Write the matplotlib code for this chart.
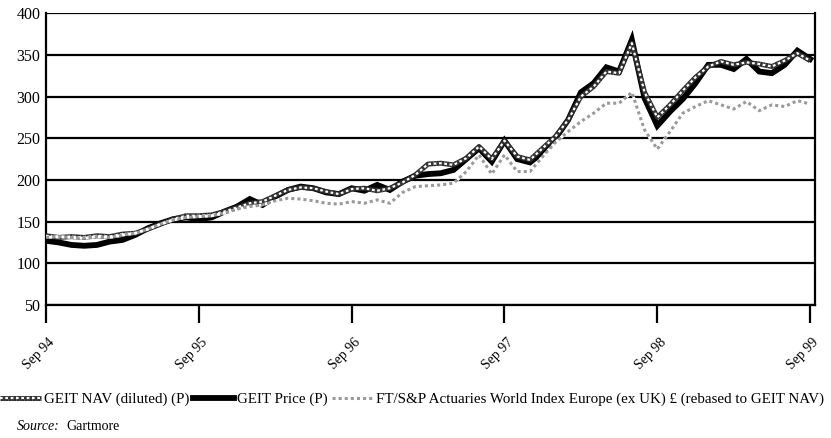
import matplotlib
matplotlib.use("Agg")
import matplotlib.pyplot as plt
import matplotlib.patheffects as pe
import numpy as np

# Monthly observations, Sep 1994 .. Sep 1999 (61 points)
months = np.arange(61)
tick_labels = ["Sep 94", "Sep 95", "Sep 96", "Sep 97", "Sep 98", "Sep 99"]
tick_pos = [0, 12, 24, 36, 48, 60]

price = [127, 125, 122, 121, 122, 126, 128, 134, 142, 148, 153, 155,
         153, 155, 162, 168, 177, 170, 180, 188, 192, 190, 185, 183,
         190, 187, 194, 188, 198, 205, 207, 208, 212, 225, 238, 222,
         247, 225, 221, 233, 250, 272, 305, 316, 335, 330, 368, 298,
         265, 282, 297, 316, 338, 338, 333, 345, 330, 328, 338, 355,
         345]
nav = [133, 131, 132, 131, 133, 132, 135, 136, 141, 147, 153, 157,
       157, 158, 162, 167, 172, 174, 181, 188, 191, 190, 186, 183,
       189, 190, 187, 190, 197, 206, 219, 220, 218, 226, 240, 225,
       247, 228, 224, 238, 252, 272, 300, 312, 330, 328, 364, 305,
       275, 290, 307, 323, 336, 342, 338, 341, 339, 336, 343, 352,
       343]
index = [131, 132, 131, 130, 132, 131, 134, 136, 141, 147, 152, 155,
         156, 157, 160, 165, 168, 170, 175, 178, 177, 175, 172, 171,
         174, 172, 176, 172, 185, 192, 193, 194, 196, 210, 230, 207,
         230, 210, 210, 228, 245, 258, 270, 280, 292, 292, 305, 260,
         237, 258, 280, 288, 295, 290, 285, 294, 283, 290, 288, 295,
         291]

labels = ["GEIT NAV (diluted) (P)", "GEIT Price (P)",
          "FT/S&P Actuaries World Index Europe (ex UK) \u00a3 (rebased to GEIT NAV)"]

serif = ["Liberation Serif", "DejaVu Serif"]
plt.rcParams["font.family"] = serif

fig = plt.figure(figsize=(8.31, 4.38), dpi=100)
ax = fig.add_axes([0.0554, 0.3037, 0.9256, 0.6663])

ax.set_ylim(50, 400)
ax.set_xlim(0, 60.4)
ax.set_yticks(np.arange(50, 401, 50))
ax.yaxis.grid(True, color="black", linewidth=1.6)
ax.set_axisbelow(True)

l_price, = ax.plot(months, price, color="black", linewidth=4.2,
                   solid_joinstyle="miter", zorder=3, label=labels[1])
l_nav, = ax.plot(months, nav, color="white", linewidth=1.6,
                 linestyle=(0, (1.2, 1.2)), gapcolor="#3a3a3a", zorder=4,
                 path_effects=[pe.Stroke(linewidth=3.6, foreground="#2a2a2a"), pe.Normal()],
                 label=labels[0])
l_idx, = ax.plot(months, index, color="#9a9a9a", linewidth=2.2,
                 linestyle=(0, (1.0, 1.0)), gapcolor="white", zorder=5,
                 label=labels[2])

for s in ["left", "right", "bottom"]:
    ax.spines[s].set_linewidth(1.6)
    ax.spines[s].set_color("black")
ax.spines["top"].set_visible(False)

ax.set_xticks(tick_pos)
ax.set_xticklabels(tick_labels, rotation=45, ha="right", va="top",
                   rotation_mode="anchor")
ax.tick_params(axis="x", length=13, width=1.6, direction="out", pad=9, labelsize=10)
ax.tick_params(axis="y", length=0, pad=4, labelsize=11.5)
for lbl in ax.get_xticklabels():
    lbl.set_transform(lbl.get_transform() +
                      matplotlib.transforms.ScaledTranslation(2 / 100, 0, fig.dpi_scale_trans))

fig.legend(handles=[l_nav, l_price, l_idx], labels=[labels[0], labels[1], labels[2]],
           loc="lower left", bbox_to_anchor=(0.0, 0.072), ncol=3, frameon=False,
           fontsize=10.8, handlelength=2.7, handletextpad=0.2, columnspacing=0.3,
           borderaxespad=0, borderpad=0)

fig.text(0.02, 0.018, "Source:", fontsize=10, style="italic")
fig.text(0.08, 0.018, "Gartmore", fontsize=10)

fig.savefig("out.png", dpi=100)
